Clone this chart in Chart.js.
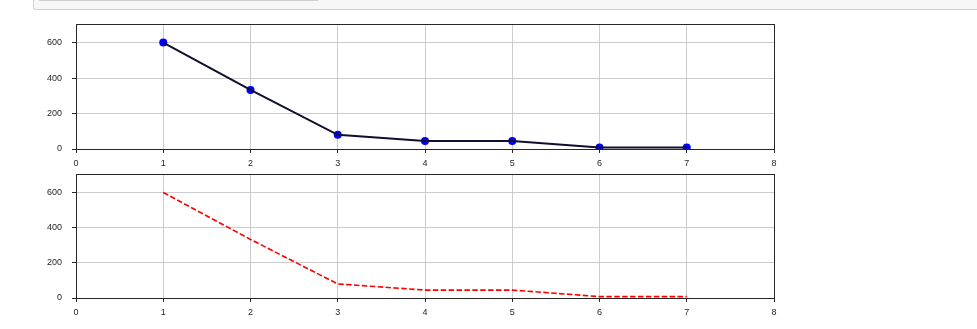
<!DOCTYPE html>
<html>
<head>
<meta charset="utf-8">
<script src="https://cdn.jsdelivr.net/npm/chart.js@4.4.1/dist/chart.umd.min.js"></script>
<style>
  html, body { margin: 0; padding: 0; background: #fff; }
  body { width: 977px; height: 329px; position: relative; overflow: hidden; }
  #outerbox { position: absolute; left: 33px; top: -6px; width: 950px; height: 14px; background: #f7f7f7; border: 1px solid #cfcfcf; border-radius: 2px; }
  #innerbox { position: absolute; left: 38px; top: -10px; width: 279px; height: 9px; background: #f7f7f7; border: 1px solid #cfcfcf; border-radius: 2px; }
  #c1wrap { position: absolute; left: 0; top: 0; width: 800px; height: 170px; }
  #c2wrap { position: absolute; left: 0; top: 150px; width: 800px; height: 179px; }
</style>
</head>
<body>
<div id="outerbox"></div>
<div id="innerbox"></div>
<div id="c1wrap"><canvas id="c1"></canvas></div>
<div id="c2wrap"><canvas id="c2"></canvas></div>
<script>
// Data
const xValues = [1, 2, 3, 4, 5, 6, 7];
const yValues = [600, 333, 80, 45, 45, 8, 8];
const xTicks = [0, 1, 2, 3, 4, 5, 6, 7, 8];
const yTicks = [0, 200, 400, 600];

const pts = xValues.map((x, i) => ({ x: x, y: yValues[i] }));

const frame = {
  id: 'frame',
  afterDraw(chart) {
    const a = chart.chartArea, ctx = chart.ctx;
    ctx.save();
    ctx.strokeStyle = '#262626';
    ctx.lineWidth = 1;
    ctx.strokeRect(Math.round(a.left) + 0.5, Math.round(a.top) + 0.5, Math.round(a.right - a.left), Math.round(a.bottom - a.top));
    ctx.restore();
  }
};

const tickFont = { family: '"Liberation Sans Narrow", "Liberation Sans", Arial, sans-serif', size: 9 };

function makeScales(xHeight) {
  return {
    x: {
      type: 'linear', min: 0, max: 8,
      afterBuildTicks: s => { s.ticks = xTicks.map(v => ({ value: v })); },
      afterFit: s => { s.height = xHeight; },
      grid: { color: '#cccccc', lineWidth: 1, drawTicks: true, tickLength: 4, tickColor: '#262626' },
      border: { display: false },
      ticks: { font: tickFont, color: '#262626', padding: 5, maxRotation: 0, autoSkip: false }
    },
    y: {
      type: 'linear', min: 0, max: 705,
      afterBuildTicks: s => { s.ticks = yTicks.map(v => ({ value: v })); },
      afterFit: s => { s.width = 76; },
      grid: { color: '#cccccc', lineWidth: 1, drawTicks: true, tickLength: 4, tickColor: '#262626' },
      border: { display: false },
      ticks: { font: tickFont, color: '#262626', padding: 10 }
    }
  };
}

const common = {
  responsive: true,
  maintainAspectRatio: false,
  animation: false,
  events: [],
  plugins: { legend: { display: false }, tooltip: { enabled: false } }
};

new Chart(document.getElementById('c1'), {
  type: 'line',
  data: {
    datasets: [
      { data: pts, showLine: true, borderColor: '#0f0f2e', borderWidth: 2, pointRadius: 0, order: 0, clip: 0, tension: 0 },
      { data: pts, showLine: false, pointRadius: 4, pointBackgroundColor: '#0000ff', pointBorderColor: '#0000ff', pointBorderWidth: 0, order: 1, clip: 0 }
    ]
  },
  options: Object.assign({}, common, {
    layout: { padding: { top: 24, right: 26, left: 0, bottom: 0 } },
    scales: makeScales(21)
  }),
  plugins: [frame]
});

new Chart(document.getElementById('c2'), {
  type: 'line',
  data: {
    datasets: [
      { data: pts, showLine: true, borderColor: '#ff0000', borderWidth: 1.6, borderDash: [5.5, 2.4], pointRadius: 0, clip: 0, tension: 0 }
    ]
  },
  options: Object.assign({}, common, {
    layout: { padding: { top: 24, right: 26, left: 0, bottom: 0 } },
    scales: makeScales(31)
  }),
  plugins: [frame]
});
</script>
</body>
</html>
